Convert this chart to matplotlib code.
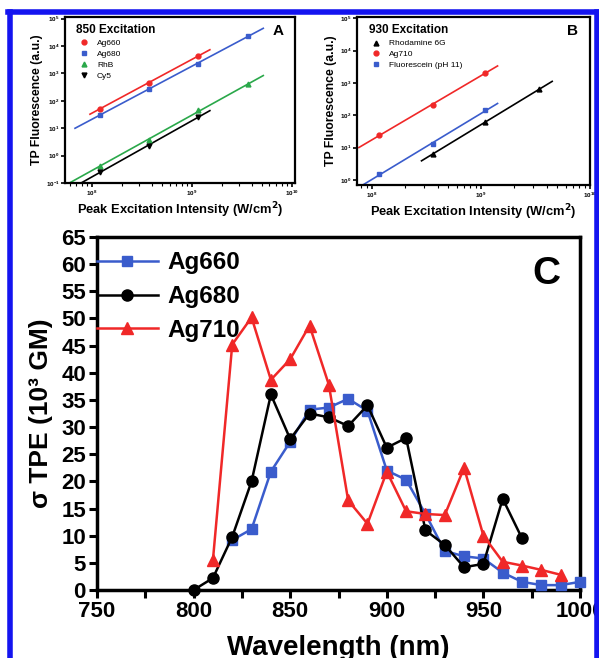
import matplotlib
matplotlib.use("Agg")
import matplotlib.pyplot as plt
import numpy as np
from matplotlib.lines import Line2D

plt.rcParams['font.family'] = ['Liberation Sans', 'DejaVu Sans']
plt.rcParams['font.weight'] = 'bold'

W, H = 599, 658

# panel A, 850 nm excitation
int_a = [1.2e8, 3.7e8, 1.15e9, 3.7e9]
a_ag660 = [51, 447, 4300]
a_ag680 = [29.5, 277, 2290, 23300]
a_rhb = [0.42, 3.6, 45, 400]
a_cy5 = [0.25, 2.24, 25.7]
a_fit_ranges = [(0.96e8, 1.52e9), (6.8e7, 5.2e9), (5.6e7, 5.2e9), (6.1e7, 1.52e9)]

# panel B, 930 nm excitation
int_b = [1.17e8, 3.6e8, 1.1e9, 3.4e9]
b_r6g = [6.3, 63, 630]
b_ag710 = [24.5, 209, 2090]
b_fluo = [1.5, 12.9, 145]
b_fit_ranges = [(2.85e8, 4.5e9), (7.6e7, 1.42e9), (7.3e7, 1.42e9)]

# panel C, TPE cross sections
wl_660 = [820, 830, 840, 850, 860, 870, 880, 890, 900, 910, 920, 930, 940, 950, 960, 970, 980, 990, 1000]
tpe_660 = [9.2, 11.2, 21.8, 27.3, 33.2, 33.6, 35.2, 33.0, 22.0, 20.3, 14.0, 7.2, 6.2, 5.8, 3.2, 1.5, 0.9, 0.9, 1.5]
wl_680 = [800, 810, 820, 830, 840, 850, 860, 870, 880, 890, 900, 910, 920, 930, 940, 950, 960, 970]
tpe_680 = [0.0, 2.2, 9.8, 20.0, 36.0, 27.8, 32.5, 31.8, 30.2, 34.0, 26.2, 28.0, 11.0, 8.3, 4.2, 4.8, 16.8, 9.5]
wl_710 = [810, 820, 830, 840, 850, 860, 870, 880, 890, 900, 910, 920, 930, 940, 950, 960, 970, 980, 990]
tpe_710 = [5.5, 45.2, 50.2, 38.7, 42.5, 48.7, 37.8, 16.5, 12.2, 21.8, 14.5, 14.0, 13.8, 22.5, 10.0, 5.2, 4.5, 3.7, 2.8]

RED = '#f02828'
BLUE = '#3a5ccc'
GREEN = '#2aa84a'


def ax_px(left, top, right, bottom):
    return [left / W, 1 - bottom / H, (right - left) / W, (bottom - top) / H]


def fit_line(ax, x, y, xr, color):
    # straight line fitted in log-log space
    k, b = np.polyfit(np.log10(x[:len(y)]), np.log10(y), 1)
    xs = np.array(xr)
    ax.plot(xs, 10 ** (k * np.log10(xs) + b), color=color, lw=1.2, zorder=2)


def style_log(ax):
    ax.set_xscale('log')
    ax.set_yscale('log')
    for s in ax.spines.values():
        s.set_linewidth(1.6)
    ax.tick_params(which='major', direction='out', length=3, width=1.2, labelsize=4.5, pad=1)
    ax.tick_params(which='minor', direction='out', length=1.8, width=0.8)
    ax.tick_params(axis='y', which='minor', length=0)


fig = plt.figure(figsize=(W / 100, H / 100), dpi=100)

# ---- A
axA = fig.add_axes(ax_px(65, 17, 295, 183))
style_log(axA)
series_a = [(a_ag660, 'o', RED, 'Ag660'), (a_ag680, 's', BLUE, 'Ag680'),
            (a_rhb, '^', GREEN, 'RhB'), (a_cy5, 'v', 'black', 'Cy5')]
handles = []
for (vals, m, c, lab), xr in zip(series_a, a_fit_ranges):
    fit_line(axA, int_a, vals, xr, c)
    axA.plot(int_a[:len(vals)], vals, ls='none', marker=m, ms=3.5, color=c, zorder=3)
    handles.append(Line2D([], [], ls='none', marker=m, ms=3.5, color=c, label=lab))
axA.set_xlim(5.4e7, 1.08e10)
axA.set_ylim(1e-1, 1.15e5)
axA.legend(handles=handles, loc='upper left', bbox_to_anchor=(0.02, 0.9), frameon=False,
           handletextpad=0.6, labelspacing=0.35, borderpad=0.2,
           prop={'weight': 'normal', 'size': 6})
axA.text(0.05, 0.96, '850 Excitation', transform=axA.transAxes, fontsize=8.5, fontweight='bold', va='top')
axA.text(0.95, 0.96, 'A', transform=axA.transAxes, fontsize=11, fontweight='bold', va='top', ha='right')
axA.set_ylabel('TP Fluorescence (a.u.)', fontsize=8.8, fontweight='bold', labelpad=2)
axA.set_xlabel('Peak Excitation Intensity (W/cm$^\\mathbf{2}$)', fontsize=9.3, fontweight='bold', labelpad=2)

# ---- B
axB = fig.add_axes(ax_px(357, 17, 590, 185))
style_log(axB)
series_b = [(b_r6g, '^', 'black', 'Rhodamine 6G'), (b_ag710, 'o', RED, 'Ag710'),
            (b_fluo, 's', BLUE, 'Fluorescein (pH 11)')]
x_b = [int_b[1:], int_b[:3], int_b[:3]]
handles = []
for (vals, m, c, lab), xr, xv in zip(series_b, b_fit_ranges, x_b):
    fit_line(axB, xv, vals, xr, c)
    axB.plot(xv, vals, ls='none', marker=m, ms=3.5, color=c, zorder=3)
    handles.append(Line2D([], [], ls='none', marker=m, ms=3.5, color=c, label=lab))
axB.set_xlim(7.3e7, 1.0e10)
axB.set_ylim(0.7, 1.1e5)
axB.legend(handles=handles, loc='upper left', bbox_to_anchor=(0.02, 0.9), frameon=False,
           handletextpad=0.6, labelspacing=0.35, borderpad=0.2,
           prop={'weight': 'normal', 'size': 6})
axB.text(0.05, 0.96, '930 Excitation', transform=axB.transAxes, fontsize=8.5, fontweight='bold', va='top')
axB.text(0.95, 0.96, 'B', transform=axB.transAxes, fontsize=11, fontweight='bold', va='top', ha='right')
axB.set_ylabel('TP Fluorescence (a.u.)', fontsize=8.8, fontweight='bold', labelpad=2)
axB.set_xlabel('Peak Excitation Intensity (W/cm$^\\mathbf{2}$)', fontsize=9.3, fontweight='bold', labelpad=2)

# ---- C
axC = fig.add_axes(ax_px(97, 237, 580, 590))
axC.plot(wl_660, tpe_660, color=BLUE, marker='s', ms=7, lw=1.8, label='Ag660', clip_on=False, zorder=3)
axC.plot(wl_680, tpe_680, color='black', marker='o', ms=8, lw=1.8, label='Ag680', clip_on=False, zorder=4)
axC.plot(wl_710, tpe_710, color=RED, marker='^', ms=8, lw=1.8, label='Ag710', clip_on=False, zorder=5)
axC.set_xlim(750, 1000)
axC.set_ylim(0, 65)
axC.set_xticks(np.arange(750, 1001, 50))
axC.set_xticks(np.arange(775, 1000, 50), minor=True)
axC.set_yticks(np.arange(0, 66, 5))
for s in axC.spines.values():
    s.set_linewidth(2.5)
axC.tick_params(which='both', direction='out', length=6, width=2.2, labelsize=16, pad=2)
axC.set_xlabel('Wavelength (nm)', fontsize=20, fontweight='bold', labelpad=9)
axC.set_ylabel('\u03c3 TPE (10\u00b3 GM)', fontsize=19, fontweight='bold', labelpad=6)
axC.legend(loc='upper left', bbox_to_anchor=(0, 0.96), frameon=False, handlelength=2.5,
           handletextpad=0.4, labelspacing=0.45, borderpad=0, borderaxespad=0,
           prop={'weight': 'bold', 'size': 17.5})
axC.text(0.96, 0.945, 'C', transform=axC.transAxes, fontsize=28, fontweight='bold', va='top', ha='right')

# blue frame around the figure
frame_kw = dict(color='#1414f0', lw=4, transform=fig.transFigure, clip_on=False)
fig.add_artist(Line2D([10 / W, 10 / W], [1 - 12 / H, 0], **frame_kw))
fig.add_artist(Line2D([8 / W, 598 / W], [1 - 12 / H, 1 - 12 / H], **frame_kw))
fig.add_artist(Line2D([597 / W, 597 / W], [1 - 12 / H, 0], **frame_kw))

fig.savefig('out.png', dpi=100)
